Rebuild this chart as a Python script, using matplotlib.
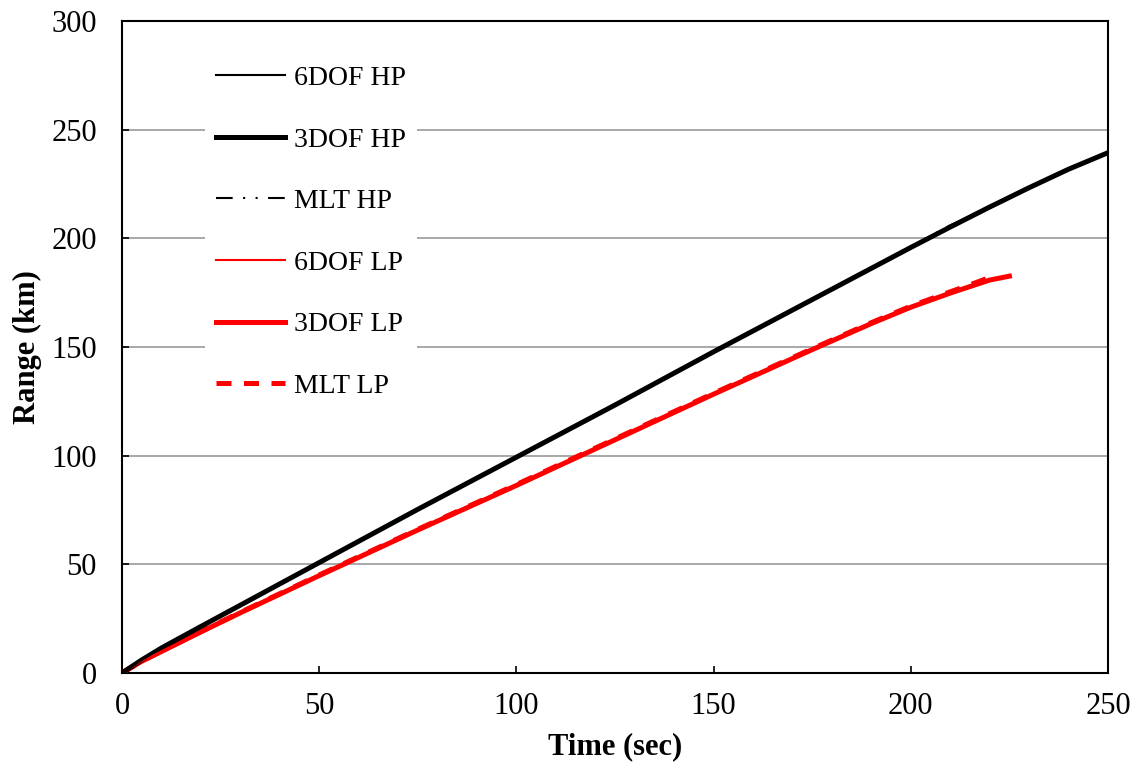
import numpy as np
import matplotlib
matplotlib.use("Agg")
from matplotlib import pyplot as plt

# time (sec) and range (km)
t_hp = [0, 5, 10, 20, 30, 50, 75, 100, 125, 150, 175, 200, 210, 220, 230, 240, 250]
r_6dof_hp = [0, 6.0, 11.5, 21.5, 31.3, 51.0, 75.5, 99.5, 123.5, 148.0, 172.0, 196.0, 205.4, 214.6, 223.5, 231.9, 239.5]
r_3dof_hp = [0, 6.0, 11.5, 21.4, 31.2, 50.8, 75.3, 99.3, 123.3, 147.8, 171.8, 195.8, 205.2, 214.4, 223.3, 231.8, 239.4]

t_mlt_hp = [0, 5, 10, 20, 30, 50, 75, 100, 125, 150, 175, 200, 210, 215]
r_mlt_hp = [0, 6.0, 11.6, 21.6, 31.4, 51.1, 75.6, 99.6, 123.6, 148.1, 172.1, 196.2, 206.0, 210.0]

t_lp = [0, 5, 10, 20, 30, 50, 75, 100, 125, 150, 175, 190, 200, 210, 215, 220, 225]
r_6dof_lp = [0, 5.5, 10.0, 19.0, 27.8, 45.0, 66.0, 86.5, 107.5, 128.5, 149.0, 161.0, 168.5, 175.0, 178.0, 181.0, 182.8]
r_3dof_lp = [0, 5.4, 9.9, 18.9, 27.7, 44.8, 65.8, 86.3, 107.3, 128.3, 148.8, 160.8, 168.3, 174.8, 177.8, 180.8, 182.6]

t_mlt_lp = [0, 5, 10, 20, 30, 50, 75, 100, 125, 150, 175, 190, 200, 210, 215, 220]
r_mlt_lp = [0, 5.5, 10.1, 19.1, 27.9, 45.1, 66.1, 86.7, 107.7, 128.7, 149.2, 161.2, 168.8, 175.4, 178.6, 182.0]

plt.rcParams['font.family'] = ['Liberation Serif', 'DejaVu Serif']

fig = plt.figure(figsize=(11.45, 7.7), dpi=100)
ax = fig.add_axes([122 / 1145, 1 - 673 / 770, (1108 - 122) / 1145, (673 - 21) / 770])

ax.plot(t_lp, r_3dof_lp, color='red', lw=3.6, label='3DOF LP', zorder=3)
ax.plot(t_lp, r_6dof_lp, color='red', lw=1.5, label='6DOF LP', zorder=4)
ax.plot(t_mlt_lp, r_mlt_lp, color='red', lw=3.6, ls=(0, (3, 2.5)), label='MLT LP', zorder=3)
ax.plot(t_hp, r_3dof_hp, color='black', lw=3.6, label='3DOF HP', zorder=3)
ax.plot(t_hp, r_6dof_hp, color='black', lw=1.5, label='6DOF HP', zorder=4)
ax.plot(t_mlt_hp, r_mlt_hp, color='black', lw=1.5, ls=(0, (8, 5, 1, 5, 1, 5)), label='MLT HP', zorder=4)

ax.set_xlim(0, 250)
ax.set_ylim(0, 300)
ax.set_xticks(np.arange(0, 251, 50))
ax.set_yticks(np.arange(0, 301, 50))
ax.yaxis.grid(True, color='#999999', lw=1.2)
ax.set_axisbelow(True)
ax.tick_params(direction='in', length=5, width=1.2, labelsize=22)
ax.tick_params(axis='y', pad=18)
ax.tick_params(axis='x', pad=14)
for s in ax.spines.values():
    s.set_linewidth(1.5)

ax.set_xlabel('Time (sec)', fontsize=22, fontweight='bold', labelpad=8)
ax.set_ylabel('Range (km)', fontsize=22, fontweight='bold', labelpad=7)

h, l = ax.get_legend_handles_labels()
order = ['6DOF HP', '3DOF HP', 'MLT HP', '6DOF LP', '3DOF LP', 'MLT LP']
hd = dict(zip(l, h))
leg = ax.legend([hd[k] for k in order], order, loc='upper left',
                bbox_to_anchor=(0.07, 0.970), fontsize=20, frameon=True,
                handlelength=2.5, handletextpad=0.3, labelspacing=1.3)
leg.get_frame().set_edgecolor('none')
leg.get_frame().set_facecolor('white')
leg.get_frame().set_alpha(1)

fig.savefig('out.png', dpi=100)
